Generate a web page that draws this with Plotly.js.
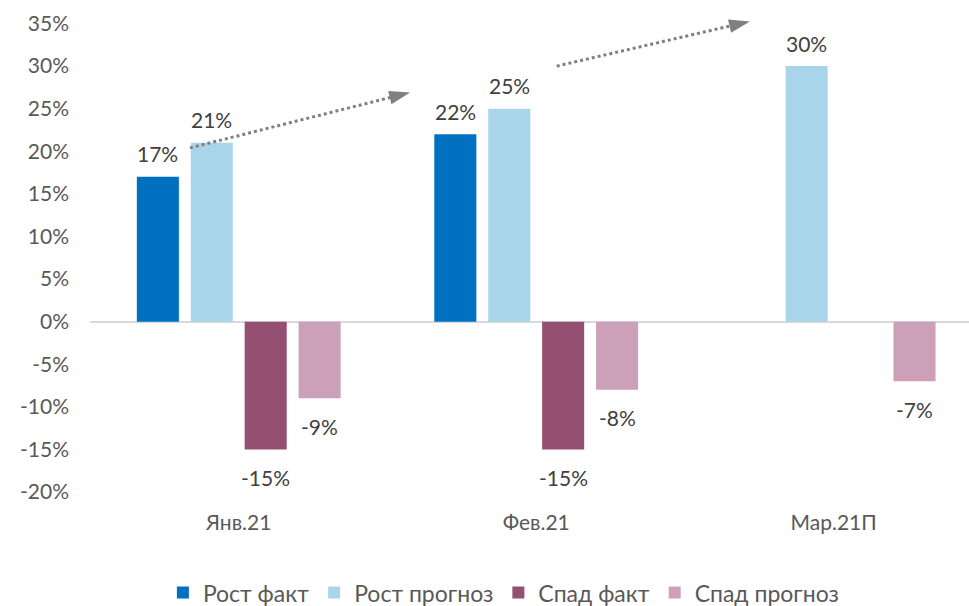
<!DOCTYPE html>
<html>
<head>
<meta charset="utf-8">
<script src="https://cdn.plot.ly/plotly-3.0.1.min.js"></script>
<style>html,body{margin:0;padding:0;background:#fff;}#chart{width:969px;height:606px;}</style>
</head>
<body>
<div id="chart"></div>
<script>
const categories = ["Янв.21", "Фев.21", "Мар.21П"];
const seriesNames = ["Рост факт", "Рост прогноз", "Спад факт", "Спад прогноз"];
const growthFact = [17, 22, null];
const growthForecast = [21, 25, 30];
const declineFact = [-15, -15, null];
const declineForecast = [-9, -8, -7];
const colors = ["#0070C0", "#A9D5EB", "#954F72", "#CDA0B9"];
const yTicks = [-20, -15, -10, -5, 0, 5, 10, 15, 20, 25, 30, 35];
// trend arrows (category index, percent)
const arrow1X = [-0.164, 0.576];
const arrow1Y = [20.4, 26.9];
const arrow2X = [1.069, 1.7185];
const arrow2Y = [30.0, 35.25];

const FONT = "Lato, 'Century Gothic', sans-serif";
const bargap = 0.275;
const allSeries = [growthFact, growthForecast, declineFact, declineForecast];

const traces = allSeries.map((vals, i) => ({
  type: "bar",
  name: seriesNames[i],
  x: categories,
  y: vals,
  marker: {color: colors[i], line: {width: 0}},
  hoverinfo: "skip"
}));

function arrowTrace(xs, ys) {
  return {
    type: "scatter", mode: "lines+markers", x: xs, y: ys, xaxis: "x2",
    showlegend: false, hoverinfo: "skip", cliponaxis: false,
    line: {color: "#808080", width: 3, dash: "dot"},
    marker: {symbol: "arrow", size: 22, color: "#808080", angleref: "previous", standoff: 0}
  };
}
traces.push(arrowTrace(arrow1X, arrow1Y));
traces.push(arrowTrace(arrow2X, arrow2Y));

const slot = (1 - bargap) / 4;
const annotations = [];
allSeries.forEach((vals, i) => {
  vals.forEach((v, c) => {
    if (v === null) return;
    annotations.push({
      x: c + (i - 1.5) * slot, y: v, xref: "x2", yref: "y",
      text: v + "%", showarrow: false,
      yanchor: "middle", yshift: v >= 0 ? 23 : -28,
      font: {family: FONT, size: 21, color: "#404040"}
    });
  });
});

const layout = {
  width: 969, height: 606,
  margin: {l: 90, r: 0, t: 15, b: 114, autoexpand: false},
  paper_bgcolor: "#fff", plot_bgcolor: "#fff",
  barmode: "group", bargap: bargap, bargroupgap: 0.22,
  showlegend: true,
  legend: {orientation: "h", x: 0.52, xref: "container", xanchor: "center",
    y: 0.022, yref: "container", yanchor: "middle",
    font: {family: FONT, size: 23, color: "#595959"}, itemwidth: 30, tracegroupgap: 0},
  xaxis: {type: "category", range: [-0.5, 2.455], showgrid: false, zeroline: false,
    showline: false, ticks: "", ticklabelstandoff: 16,
    tickfont: {family: FONT, size: 21, color: "#595959"}, fixedrange: true},
  xaxis2: {type: "linear", range: [-0.5, 2.455], overlaying: "x", visible: false, fixedrange: true},
  yaxis: {range: [-20, 36], tickvals: yTicks, ticktext: yTicks.map(v => v + "%"),
    showgrid: false, zeroline: true, zerolinecolor: "#D9D9D9", zerolinewidth: 2,
    showline: false, ticks: "", ticklabelstandoff: 20,
    tickfont: {family: FONT, size: 21, color: "#595959"}, fixedrange: true},
  annotations: annotations
};

Plotly.newPlot("chart", traces, layout, {displayModeBar: false, staticPlot: true});
</script>
</body>
</html>
